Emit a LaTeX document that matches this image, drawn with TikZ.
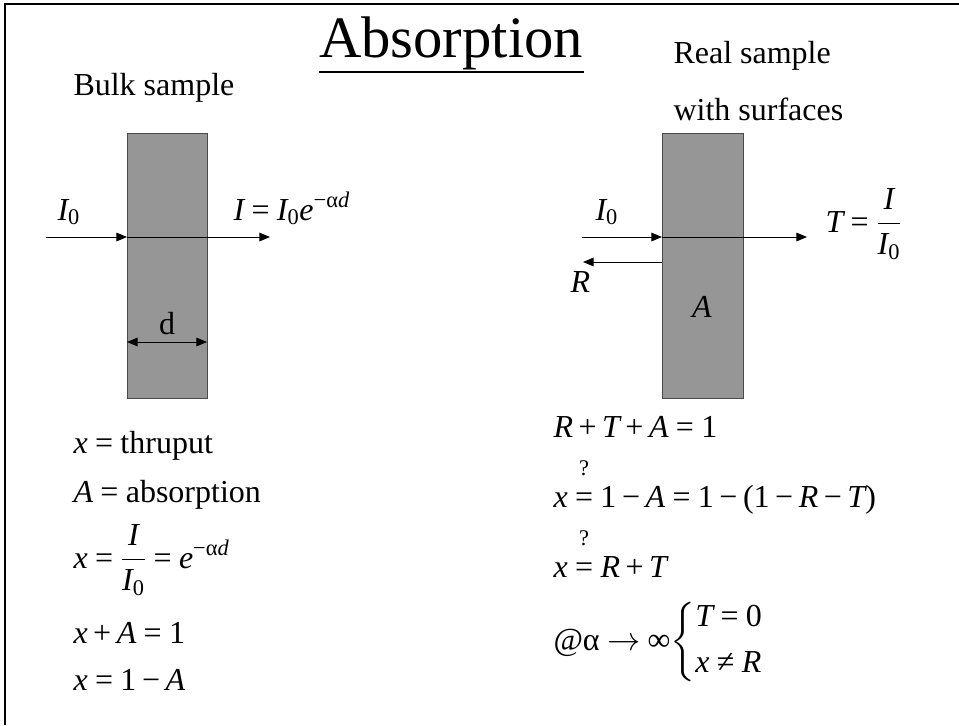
\documentclass[tikz,border=0pt]{standalone}
\usepackage[no-math]{fontspec}
\setmainfont{Liberation Serif}
\newfontfamily\tmfam{Liberation Serif}[NFSSFamily=tmfam]
\usepackage{amsmath}
\usetikzlibrary{arrows.meta}
\definecolor{slabgray}{HTML}{969696}
\definecolor{edgegray}{HTML}{4A4A4A}
% Times-like letters and signs in math
\DeclareSymbolFont{tmit}{TU}{tmfam}{m}{it}
\DeclareSymbolFont{tmrm}{TU}{tmfam}{m}{n}
\DeclareMathSymbol{x}{\mathalpha}{tmit}{`x}
\DeclareMathSymbol{A}{\mathalpha}{tmit}{`A}
\DeclareMathSymbol{I}{\mathalpha}{tmit}{`I}
\DeclareMathSymbol{R}{\mathalpha}{tmit}{`R}
\DeclareMathSymbol{T}{\mathalpha}{tmit}{`T}
\DeclareMathSymbol{e}{\mathalpha}{tmit}{`e}
\DeclareMathSymbol{d}{\mathalpha}{tmit}{`d}
\DeclareMathSymbol{0}{\mathalpha}{tmrm}{`0}
\DeclareMathSymbol{1}{\mathalpha}{tmrm}{`1}
\DeclareMathSymbol{=}{\mathrel}{tmrm}{`=}
\DeclareMathSymbol{+}{\mathbin}{tmrm}{`+}
\DeclareMathSymbol{(}{\mathopen}{tmrm}{`(}
\DeclareMathSymbol{)}{\mathclose}{tmrm}{`)}
\DeclareMathSymbol{?}{\mathord}{tmrm}{`?}
\Umathcode`\-=2 \symtmrm "2212
\Umathchardef\tmalpha=0 \symtmrm "03B1
\Umathchardef\tmne=3 \symtmrm "2260
\Umathchardef\tminf=0 \symtmrm "221E
\newcommand\qeq{\overset{\raisebox{8pt}{$\scriptstyle ?$}}{=}}
\thickmuskip=4mu
\medmuskip=3mu

\begin{document}
\begin{tikzpicture}[
    x=0.75pt, y=-0.75pt,
    line width=0.75pt, >={Triangle[length=8pt,width=6.5pt]},
    slab/.style={fill=slabgray, draw=edgegray, line width=0.75pt},
    lab/.style={font=\fontsize{24}{29}\selectfont, inner sep=0pt, anchor=base west},
    title/.style={font=\fontsize{44}{53}\selectfont, inner sep=0pt, anchor=base}]
  % fixed 959 x 725 px canvas
  \path[use as bounding box] (0,0) rectangle (959,725);
  \draw[line width=1.5pt] (959,4) -- (5,4) -- (5,725);

  % ================= title =================
  \node[title] (head) at (451,57) {Absorption};
  \draw[line width=2pt] ([yshift=-11.25pt]head.base west) -- ([yshift=-11.25pt]head.base east);

  % ================= 1) bulk sample =================
  \node[lab] (bulktxt) at (73,95) {Bulk sample};
  \draw[slab] (127,133) rectangle (207,398);
  \coordinate (bin) at (46,237);
  \coordinate (bfront) at (127,237);
  \coordinate (bout) at (270,237);
  \draw[->] (bin) -- (bfront);
  \draw[->] (bfront) -- (bout);
  \node[lab] (bI0) at (57,220) {$I_0$};
  \node[lab] (bI) at (233,220) {$I = I_0 e^{-\tmalpha d}$};
  % thickness d
  \coordinate (dl) at (127,342);
  \coordinate (dr) at (207,342);
  \draw[<->] (dl) -- (dr);
  \node[lab, anchor=base] (dlab) at (167,334) {d};

  % ================= 2) real sample with surfaces =================
  \node[lab] (realtxt) at (673,63) {Real sample};
  \node[lab] (surftxt) at (673,120) {with surfaces};
  \draw[slab] (662,133) rectangle (743,398);
  \coordinate (rin) at (582,237);
  \coordinate (rfront) at (662,237);
  \coordinate (rout) at (807,237);
  \coordinate (rback) at (662,262);
  \coordinate (rrefl) at (583,262);
  \draw[->] (rin) -- (rfront);
  \draw[->] (rfront) -- (rout);
  \draw[->] (rback) -- (rrefl);
  \node[lab] (rI0) at (595,220) {$I_0$};
  \node[lab] (rR) at (570,292) {$R$};
  \node[lab, anchor=base] (rA) at (702,317) {$A$};
  \node[lab] (rT) at (825,232) {$T = \dfrac{I}{I_0}$};

  % ================= relations, bulk =================
  \node[lab] (e1) at (73,453) {$x = \text{thruput}$};
  \node[lab] (e2) at (73,502) {$A = \text{absorption}$};
  \node[lab] (e3) at (73,568) {$x = \dfrac{I}{I_0} = e^{-\tmalpha d}$};
  \node[lab] (e4) at (73,643) {$x + A = 1$};
  \node[lab] (e5) at (73,690) {$x = 1 - A$};

  % ================= relations, real sample =================
  \node[lab] (f1) at (553,437) {$R + T + A = 1$};
  \node[lab] (f2) at (553,507) {$x \qeq 1 - A = 1 - (1 - R - T)$};
  \node[lab] (f3) at (553,577) {$x \qeq R + T$};
  \node[lab] (f4) at (553,650)
    {$\mbox{@}\tmalpha \to \tminf\!\left\{\begin{array}{@{}l@{}} T = 0\\[5pt] x \tmne R\end{array}\right.$};
\end{tikzpicture}
\end{document}
